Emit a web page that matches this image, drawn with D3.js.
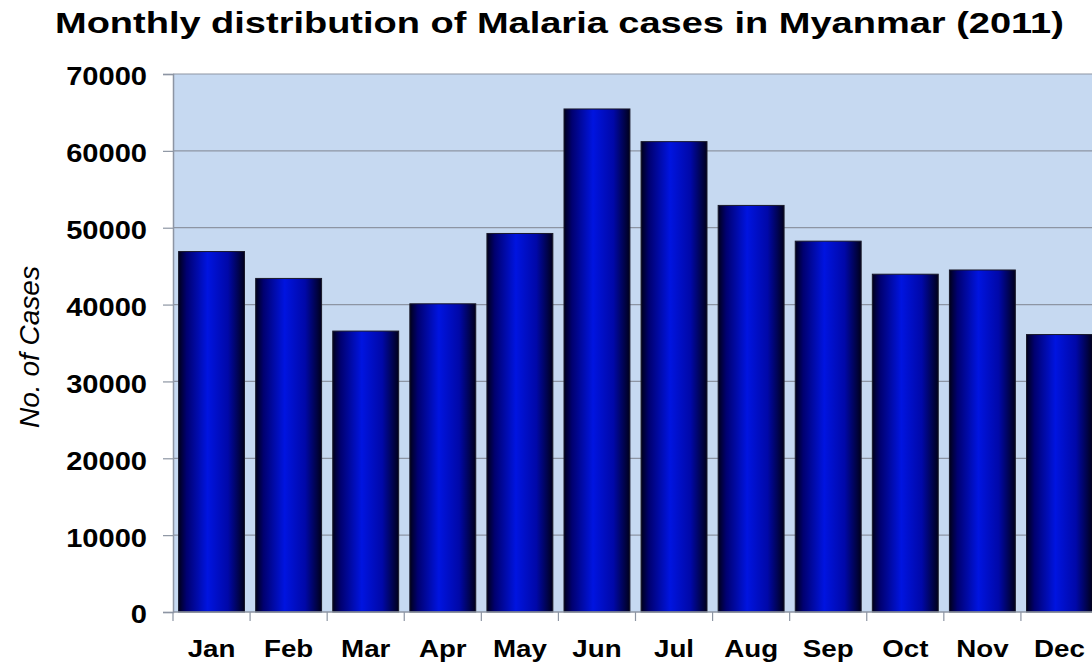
<!DOCTYPE html>
<html>
<head>
<meta charset="utf-8">
<script src="https://cdn.jsdelivr.net/npm/d3@7"></script>
<style>
  html, body { margin: 0; padding: 0; background: #fff; }
  svg { display: block; }
  text { font-family: "Liberation Sans", Arial, sans-serif; fill: #000; }
</style>
</head>
<body>
<svg id="chart" width="1092" height="664"></svg>
<script>
// Monthly malaria cases, Myanmar 2011
const months = ["Jan", "Feb", "Mar", "Apr", "May", "Jun", "Jul", "Aug", "Sep", "Oct", "Nov", "Dec"];
const cases = [46900, 43400, 36550, 40100, 49250, 65450, 61200, 52900, 48250, 43950, 44500, 36100];
const yTicks = [0, 10000, 20000, 30000, 40000, 50000, 60000, 70000];

const svg = d3.select("#chart");
const plot = { left: 173, right: 1098, top: 74, bottom: 612 };
const stretch = 1.14; // text in this layout is set slightly wide

const x = d3.scaleBand()
  .domain(months)
  .range([plot.left, plot.right])
  .paddingInner(0.145)
  .paddingOuter(0.0725);

const y = d3.scaleLinear()
  .domain([0, 70000])
  .range([plot.bottom, plot.top]);

// bar fill: dark edges, bright blue just left of centre
const defs = svg.append("defs");
const grad = defs.append("linearGradient")
  .attr("id", "barFill")
  .attr("x1", "0%").attr("x2", "100%").attr("y1", "0%").attr("y2", "0%");
[
  ["0%", "#00001a"],
  ["12%", "#000070"],
  ["44%", "#0014e0"],
  ["75%", "#0008a8"],
  ["100%", "#00001c"]
].forEach(([o, c]) => grad.append("stop").attr("offset", o).attr("stop-color", c));

// plot background
svg.append("rect")
  .attr("x", plot.left).attr("y", plot.top)
  .attr("width", plot.right - plot.left)
  .attr("height", plot.bottom - plot.top)
  .attr("fill", "#c6d9f1");

// horizontal gridlines
svg.append("g")
  .selectAll("line")
  .data(yTicks.filter(t => t > 0))
  .join("line")
  .attr("x1", plot.left).attr("x2", plot.right)
  .attr("y1", d => y(d)).attr("y2", d => y(d))
  .attr("stroke", "#8d95a3").attr("stroke-width", 1.2);

// bars
svg.append("g")
  .selectAll("rect")
  .data(months.map((m, i) => ({ m, v: cases[i] })))
  .join("rect")
  .attr("x", d => x(d.m))
  .attr("y", d => y(d.v))
  .attr("width", x.bandwidth())
  .attr("height", d => y(0) - y(d.v))
  .attr("fill", "url(#barFill)")
  .attr("stroke", "#1a1a2a")
  .attr("stroke-width", 1);

// y axis
const yAxis = svg.append("g")
  .attr("transform", `translate(${plot.left},0)`)
  .call(d3.axisLeft(y).tickValues(yTicks).tickSize(10).tickPadding(0).tickFormat(d3.format("d")));
yAxis.select(".domain").attr("stroke", "#8d95a3").attr("stroke-width", 1.5);
yAxis.selectAll(".tick line").attr("stroke", "#8d95a3").attr("stroke-width", 1.2);
yAxis.selectAll(".tick text")
  .attr("x", null).attr("dy", null)
  .attr("font-size", 25.5).attr("font-weight", "bold")
  .attr("font-family", "Liberation Sans, Arial, sans-serif")
  .attr("fill", "#000")
  .attr("text-anchor", "end")
  .attr("dominant-baseline", "central")
  .attr("transform", `translate(-26,2) scale(${stretch},1)`);

// x axis: boundary ticks between categories
const bounds = months.map(m => x(m) - x.step() * x.paddingInner() / 2);
const xg = svg.append("g");
xg.append("line")
  .attr("x1", plot.left).attr("x2", plot.right)
  .attr("y1", plot.bottom).attr("y2", plot.bottom)
  .attr("stroke", "#8d95a3").attr("stroke-width", 1.5);
xg.selectAll("line.tick")
  .data(bounds)
  .join("line")
  .attr("class", "tick")
  .attr("x1", d => d).attr("x2", d => d)
  .attr("y1", plot.bottom).attr("y2", plot.bottom + 9)
  .attr("stroke", "#8d95a3").attr("stroke-width", 1.2);
xg.selectAll("text")
  .data(months)
  .join("text")
  .attr("transform", d => `translate(${x(d) + x.bandwidth() / 2},657) scale(1.18,1)`)
  .attr("text-anchor", "middle")
  .attr("font-size", 23.5)
  .attr("font-weight", "bold")
  .text(d => d);

// axis title
svg.append("text")
  .attr("transform", "translate(39,347) rotate(-90)")
  .attr("text-anchor", "middle")
  .attr("font-size", 28)
  .attr("font-style", "italic")
  .text("No. of Cases");

// chart title
svg.append("text")
  .attr("transform", "translate(55,33) scale(1.288,1)")
  .attr("font-size", 29.5)
  .attr("font-weight", "bold")
  .text("Monthly distribution of Malaria cases in Myanmar (2011)");
</script>
</body>
</html>
